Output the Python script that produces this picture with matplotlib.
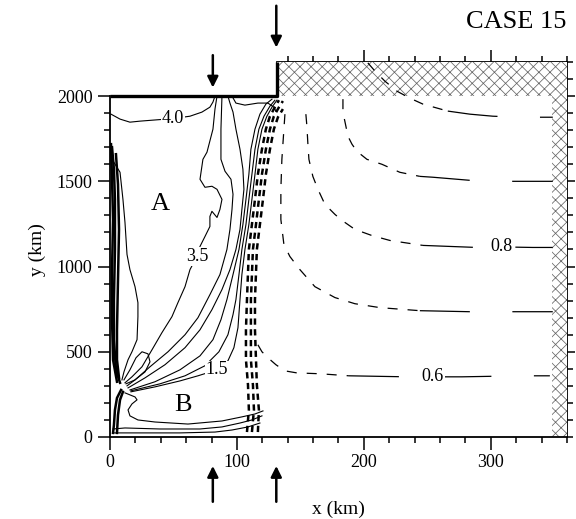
import numpy as np
import matplotlib
matplotlib.use("Agg")
import matplotlib.pyplot as plt
from matplotlib.patches import Rectangle

OUTPUT_PATH = "out.png"

plt.rcParams["font.family"] = ["Liberation Serif", "DejaVu Serif"]

# --- domain (km) ---
X_MAX = 360
Y_MAX = 2200
STEP_X = [0, 131.5, 131.5]
STEP_Y = [2000, 2000, 2200]
SPONGE_TOP = (131.5, 2000, 360, 2200)    # x0, y0, x1, y1
SPONGE_RIGHT = (348, 0, 360, 2000)

# --- solid contours, western basin (x km, y km) ---
C_40 = [(0.8, 1894), (7.9, 1865), (15.7, 1847), (23.6, 1853), (33.9, 1859),
        (49.6, 1868), (63.0, 1882), (72.4, 1906), (78.7, 1935), (81.1, 1965), (82.7, 2000)]
C_35 = [(11.8, 318), (17.3, 353), (25.2, 412), (33.1, 512), (40.9, 612), (48.8, 706),
        (53.5, 788), (59.1, 882), (63.0, 982), (68.5, 1059), (70.9, 1118), (74.8, 1176),
        (78.7, 1235), (78.7, 1294), (80.3, 1324), (84.3, 1288), (86.6, 1335), (88.2, 1394),
        (84.3, 1453), (80.3, 1471), (74.8, 1465), (70.9, 1512), (73.2, 1629), (76.4, 1671),
        (81.1, 1806), (82.7, 1924), (84.3, 2000)]
C_30 = [(13.4, 300), (19.7, 335), (31.5, 412), (45.7, 500), (59.1, 600), (69.3, 700),
        (78.7, 835), (86.6, 953), (92.1, 1100), (94.5, 1218), (96.1, 1335), (96.9, 1424),
        (95.3, 1512), (90.6, 1559), (87.4, 1629), (87.4, 1806), (88.2, 2000)]
C_25 = [(14.2, 288), (27.6, 347), (43.3, 424), (59.1, 524), (70.9, 629), (80.3, 747),
        (88.2, 865), (94.5, 982), (99.2, 1100), (102.4, 1218), (103.9, 1335), (105.5, 1453),
        (104.7, 1571), (102.4, 1688), (99.2, 1806), (96.9, 1906), (94.5, 1959), (92.9, 2000)]
C_TOP = [(96.1, 2000), (99.2, 1959), (106.3, 1947), (116.5, 1959), (124.4, 1959),
         (129.1, 1935), (130.7, 1912)]
C_20 = [(15.7, 276), (35.4, 324), (55.1, 394), (70.9, 476), (81.1, 571), (87.4, 688),
        (92.1, 806), (96.9, 953), (101.6, 1100), (104.7, 1247), (107.1, 1394), (109.4, 1541),
        (111.0, 1688), (114.2, 1806), (118.1, 1894), (122.8, 1953), (127.6, 1982)]
C_175 = [(16.5, 271), (39.4, 312), (59.1, 359), (74.8, 418), (85.8, 500), (92.9, 600),
         (96.9, 718), (99.2, 806), (101.6, 953), (103.9, 1100), (107.1, 1247), (109.4, 1394),
         (111.8, 1541), (114.2, 1688), (117.3, 1806), (121.3, 1882), (126.0, 1941), (129.9, 1976)]
C_15 = [(16.5, 265), (35.4, 294), (55.1, 329), (69.3, 359), (84.3, 394), (92.9, 447),
        (97.6, 524), (100.8, 641), (102.4, 806), (103.9, 953), (106.3, 1100), (109.4, 1247),
        (111.8, 1394), (114.2, 1541), (116.5, 1688), (119.7, 1806), (123.6, 1882),
        (127.6, 1935), (131.5, 1976)]
LENS = [(1.6, 1629), (7.9, 1553), (10.2, 1394), (11.8, 1259), (13.4, 1071), (15.7, 982),
        (19.7, 882), (22.0, 788), (22.0, 706), (21.3, 571), (17.3, 500), (14.2, 453),
        (11.0, 382), (9.4, 335)]
LOBE = [(11.0, 335), (15.7, 394), (20.5, 465), (25.2, 500), (29.9, 488), (31.5, 441),
        (27.6, 382), (19.7, 335), (12.6, 312)]
B_LINE = [(11.8, 259), (19.7, 235), (21.3, 218), (17.3, 194), (14.2, 159), (15.7, 124),
          (22.0, 100), (35.4, 88), (61.4, 76), (88.2, 94), (103.9, 118), (114.2, 135), (120.5, 153)]
BOTTOM_1 = [(2.4, 47), (11.8, 53), (39.4, 47), (70.9, 47), (88.2, 59), (102.4, 82),
            (111.8, 100), (119.7, 124)]
BOTTOM_2 = [(3.1, 24), (23.6, 24), (55.1, 24), (82.7, 29), (96.1, 41), (108.7, 59), (118.1, 82)]

# boundary layer along the western wall
WALL_1 = [(1.6, 1700), (3.1, 1571), (3.9, 1394), (3.9, 1100), (3.1, 806), (3.1, 571),
          (4.7, 394), (7.9, 318)]
WALL_2 = [(0.8, 1718), (1.6, 1512), (2.4, 1276), (1.6, 982), (1.6, 688), (2.4, 453), (5.5, 324)]
WALL_3 = [(4.7, 1659), (6.3, 1482), (7.1, 1218), (6.3, 924), (5.5, 629), (5.5, 453), (7.1, 347)]
WALL_4 = [(8.7, 276), (5.5, 229), (3.9, 159), (3.1, 71), (2.4, 24)]
WALL_5 = [(10.2, 265), (7.9, 218), (6.3, 129), (5.5, 24)]

# packed dashed contours along the step
PACK_1 = [(107.9, 29), (109.4, 159), (108.7, 306), (107.1, 453), (107.1, 629), (107.9, 806),
          (109.4, 1100), (111.8, 1247), (114.2, 1394), (116.5, 1541), (119.7, 1688),
          (122.8, 1806), (126.0, 1882), (129.9, 1935), (133.1, 1976)]
PACK_2 = [(111.8, 29), (113.4, 159), (112.6, 306), (111.0, 453), (111.0, 629), (111.0, 806),
          (112.6, 1100), (115.0, 1247), (117.3, 1394), (119.7, 1541), (122.8, 1688),
          (126.0, 1806), (129.1, 1882), (133.1, 1935), (136.2, 1971)]
PACK_3 = [(116.5, 29), (117.3, 159), (115.7, 306), (115.0, 453), (114.2, 629), (114.2, 806),
          (115.7, 1100), (118.1, 1247), (120.5, 1394), (122.8, 1541), (126.0, 1688),
          (129.1, 1806), (132.3, 1876), (136.2, 1924)]

# dashed contours, eastern basin: curved part then flat part
C06_CURVE = [(116.5, 541), (119.7, 500), (124.4, 465), (130.7, 424), (137.8, 388),
             (147.2, 376), (165.4, 371), (188.2, 359)]
C06_FLAT = [(188.2, 359), (233.9, 353), (277.2, 353), (322.8, 359), (346.5, 359)]
C07_CURVE = [(137.8, 1894), (137.0, 1806), (135.4, 1629), (134.6, 1453), (134.6, 1276),
             (137.0, 1129), (141.7, 1059), (149.6, 982), (161.4, 882), (177.2, 818),
             (192.9, 782), (212.6, 759), (244.1, 741)]
C07_FLAT = [(244.1, 741), (283.5, 735), (348.8, 735)]
C08_CURVE = [(154.3, 1894), (155.1, 1824), (155.9, 1718), (156.7, 1629), (159.8, 1529),
             (163.8, 1453), (169.3, 1365), (177.2, 1306), (182.7, 1271), (192.9, 1218),
             (206.3, 1182), (220.5, 1153), (246.5, 1124)]
C08_FLAT = [(246.5, 1124), (267.7, 1118), (289.0, 1112), (308.7, 1115), (333.1, 1112), (348.8, 1112)]
C09_CURVE = [(183.5, 1982), (183.5, 1906), (185.8, 1824), (187.4, 1765), (190.6, 1718),
             (194.5, 1676), (202.4, 1629), (214.2, 1600), (228.3, 1553), (244.1, 1529)]
C09_FLAT = [(244.1, 1529), (254.3, 1524), (292.9, 1500), (338.6, 1500), (348.8, 1500)]
C10_CURVE = [(203.1, 2195), (208.7, 2147), (216.5, 2088), (226.0, 2029), (236.2, 1988),
             (246.5, 1953), (266.1, 1912)]
C10_FLAT = [(266.1, 1912), (283.5, 1894), (301.6, 1882), (322.8, 1876), (348.8, 1876)]

CONTOUR_LABELS = ["4.0", "3.5", "1.5", "0.8", "0.6"]
LABEL_X = [49.6, 68.5, 84.3, 308.7, 254.3]
LABEL_Y = [1868, 1059, 394, 1115, 353]

REGION_NAMES = ["A", "B"]
REGION_X = [39.4, 57.5]
REGION_Y = [1365, 188]

ARROW_X = [81.0, 131.0]
TOP_ARROW_TAIL = [2240, 2530]
TOP_ARROW_TIP = [2050, 2285]
BOTTOM_ARROW_TAIL = [-380, -380]
BOTTOM_ARROW_TIP = [-170, -170]


def draw(ax, pts, **kw):
    xs, ys = zip(*pts)
    ax.plot(xs, ys, color="black", solid_joinstyle="round", **kw)


def main() -> None:
    fig = plt.figure(figsize=(5.76, 5.19), dpi=100)
    ax = fig.add_axes([0.19097, 0.158, 0.7934, 0.72254])
    ax.set_xlim(0, X_MAX)
    ax.set_ylim(0, Y_MAX)

    # sponge layers
    plt.rcParams["hatch.linewidth"] = 0.55
    for x0, y0, x1, y1 in (SPONGE_TOP, SPONGE_RIGHT):
        ax.add_patch(Rectangle((x0, y0), x1 - x0, y1 - y0, facecolor="white",
                               edgecolor="#666666", hatch="xxx", linewidth=0, zorder=1))

    # solid contours
    for c in (C_40, C_35, C_30, C_25, C_TOP, C_20, C_175, C_15, LENS, LOBE,
              B_LINE, BOTTOM_1, BOTTOM_2):
        draw(ax, c, lw=0.8, zorder=3)
    for c in (WALL_1, WALL_2, WALL_3, WALL_4, WALL_5):
        draw(ax, c, lw=1.8, zorder=3)

    # packed dashed contours
    for c in (PACK_1, PACK_2, PACK_3):
        draw(ax, c, lw=1.8, linestyle=(0, (2.5, 1.8)), zorder=3)

    # dashed contours of the eastern basin
    for c in (C06_CURVE, C07_CURVE, C08_CURVE, C09_CURVE, C10_CURVE):
        draw(ax, c, lw=0.9, linestyle=(0, (8, 8)), zorder=3)
    for c in (C06_FLAT, C07_FLAT, C08_FLAT, C09_FLAT, C10_FLAT):
        draw(ax, c, lw=0.9, linestyle=(0, (40, 34)), zorder=3)

    for s, x, y in zip(CONTOUR_LABELS, LABEL_X, LABEL_Y):
        ax.text(x, y, s, fontsize=13, ha="center", va="center", zorder=4,
                bbox=dict(facecolor="white", edgecolor="none", pad=0.5))
    for s, x, y in zip(REGION_NAMES, REGION_X, REGION_Y):
        ax.text(x, y, s, fontsize=19, ha="center", va="center", zorder=4)

    # step in the northern boundary
    ax.plot(STEP_X, STEP_Y, color="black", lw=2.4, solid_capstyle="butt",
            clip_on=False, zorder=5)

    # arrows above and below the frame
    for x, t0, t1 in zip(ARROW_X, TOP_ARROW_TAIL, TOP_ARROW_TIP):
        ax.annotate("", xy=(x, t1), xytext=(x, t0), annotation_clip=False,
                    arrowprops=dict(arrowstyle="-|>", lw=1.8, color="black",
                                    mutation_scale=16, shrinkA=0, shrinkB=0))
    for x, t0, t1 in zip(ARROW_X, BOTTOM_ARROW_TAIL, BOTTOM_ARROW_TIP):
        ax.annotate("", xy=(x, t1), xytext=(x, t0), annotation_clip=False,
                    arrowprops=dict(arrowstyle="-|>", lw=1.8, color="black",
                                    mutation_scale=16, shrinkA=0, shrinkB=0))

    # frame and ticks
    ax.spines["top"].set_visible(False)
    ax.spines["right"].set_visible(False)
    ax.spines["left"].set_bounds(0, 2000)
    for side in ("left", "bottom"):
        ax.spines[side].set_linewidth(1.3)
    ax.set_xticks([0, 100, 200, 300])
    ax.set_xticks(np.arange(0, 361, 20), minor=True)
    ax.set_yticks([0, 500, 1000, 1500, 2000])
    ax.set_yticks(np.arange(0, 2001, 100), minor=True)
    ax.tick_params(which="both", direction="out", top=False, right=False,
                   labelsize=13, width=1.1)
    ax.tick_params(which="major", length=9)
    ax.tick_params(which="minor", length=4.5)

    sec_top = ax.secondary_xaxis("top")
    sec_top.set_xticks([200, 300])
    sec_top.set_xticks(np.arange(140, 361, 20), minor=True)
    sec_top.tick_params(which="both", direction="out", labeltop=False, width=1.1)
    sec_top.tick_params(which="major", length=9)
    sec_top.tick_params(which="minor", length=4.5)
    sec_top.spines["top"].set_bounds(131.5, 360)
    sec_top.spines["top"].set_linewidth(1.3)

    sec_right = ax.secondary_yaxis("right")
    sec_right.set_yticks([500, 1000, 1500, 2000])
    sec_right.set_yticks(np.arange(0, 2201, 100), minor=True)
    sec_right.tick_params(which="both", direction="out", labelright=False, width=1.1)
    sec_right.tick_params(which="major", length=6)
    sec_right.tick_params(which="minor", length=4.5)
    sec_right.spines["right"].set_linewidth(1.3)

    ax.set_xlabel("x (km)", fontsize=14, labelpad=21)
    ax.set_ylabel("y (km)", fontsize=14, labelpad=8)
    fig.text(0.983, 0.957, "CASE 15", fontsize=19, ha="right", va="center")

    fig.savefig(OUTPUT_PATH, dpi=100)


if __name__ == "__main__":
    main()
